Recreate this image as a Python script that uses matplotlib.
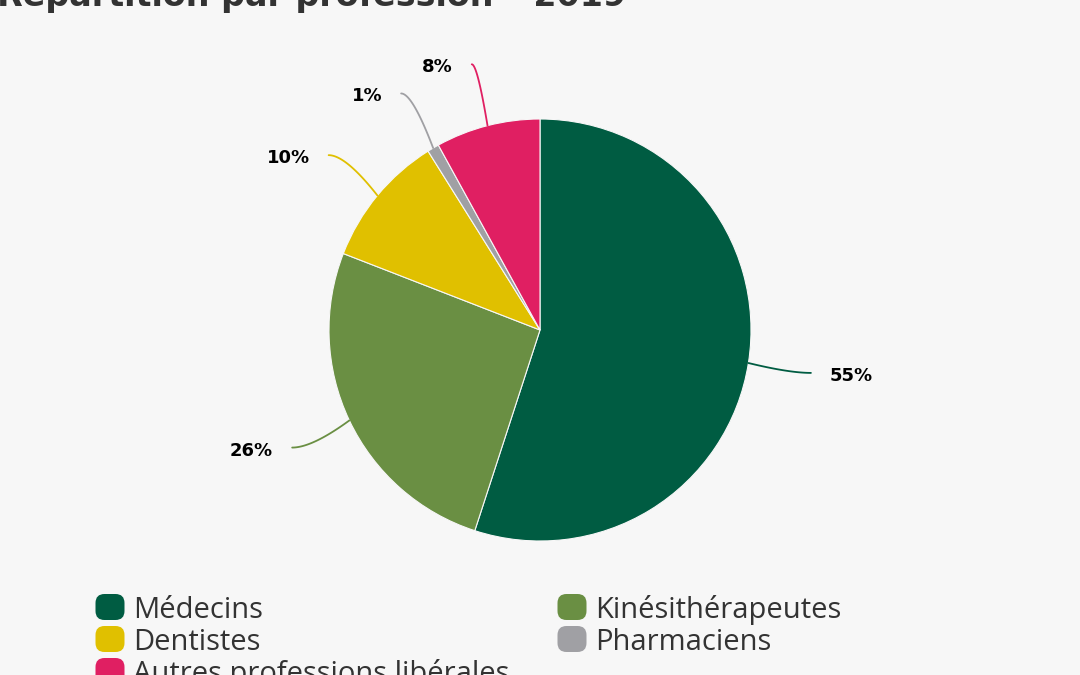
import numpy as np
import matplotlib.pyplot as plt
from matplotlib.patches import FancyBboxPatch

# Data
categories = ['Médecins', 'Kinésithérapeutes', 'Dentistes', 'Pharmaciens',
              'Autres professions libérales']
shares = [55.0, 25.9, 10.2, 0.9, 8.0]
colors = ['#005C42', '#6A8F43', '#E0C000', '#A0A0A4', '#E01F62']
title = 'Répartition par profession – 2019'

W, H = 1080, 675
bg = '#F7F7F7'

fig = plt.figure(figsize=(W / 100, H / 100), dpi=100, facecolor=bg)
ax = fig.add_axes([0, 0, 1, 1])
ax.set_facecolor(bg)

# pie in pixel coordinates
cx, cy, R = 540, H - 330, 211
wedges, _ = ax.pie(shares, colors=colors, startangle=90, counterclock=False,
                   center=(cx, cy), radius=R, frame=True,
                   wedgeprops=dict(edgecolor=bg, linewidth=0.8))
ax.set_xlim(0, W)
ax.set_ylim(0, H)
ax.set_aspect('equal')
ax.axis('off')

# data labels with curved connectors
for w, val, col in zip(wedges, shares, colors):
    mid = np.deg2rad((w.theta1 + w.theta2) / 2)
    ux, uy = np.cos(mid), np.sin(mid)
    p0 = np.array([cx + R * ux, cy + R * uy])
    p1 = np.array([cx + 1.3 * R * ux, cy + 1.3 * R * uy])
    side = 1 if ux >= 0 else -1
    ctrl = np.array([p1[0] - side * 0.35 * abs(p1[0] - p0[0]), p1[1]])
    t = np.linspace(0, 1, 40)[:, None]
    pts = (1 - t) ** 2 * p1 + 2 * (1 - t) * t * ctrl + t ** 2 * p0
    ax.plot(pts[:, 0], pts[:, 1], color=col, lw=1.3, solid_capstyle='round')
    ax.text(p1[0] + side * 19, p1[1] - 3, f'{val:.0f}%',
            ha='left' if side > 0 else 'right', va='center',
            fontsize=13, fontweight='bold', color='#000000',
            family='DejaVu Sans')

# title (partly cut off at the top, as in the original)
ax.text(-3, H - 6, title, ha='left', va='baseline', fontsize=24,
        fontweight='bold', color='#333333', family='DejaVu Sans')

# legend
col_x = [110, 572]
row_y = [607, 639, 671]
for i, (name, col) in enumerate(zip(categories, colors)):
    x = col_x[i % 2]
    y = H - row_y[i // 2]
    box = FancyBboxPatch((x - 14.5 + 9, y - 13 + 9), 29 - 18, 26 - 18,
                         boxstyle='round,pad=9', fc=col, ec='none',
                         clip_on=False)
    ax.add_patch(box)
    ax.text(x + 23, y - 3, name, ha='left', va='center', fontsize=21,
            color='#333333', family='Open Sans')

fig.savefig('out.png', dpi=100, facecolor=bg)
